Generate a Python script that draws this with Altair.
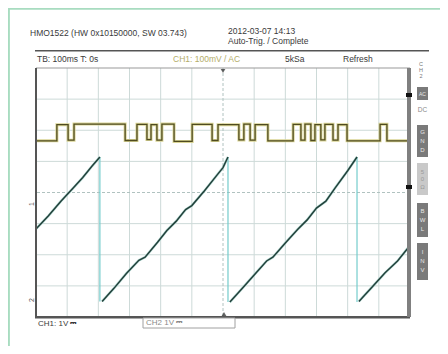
import altair as alt
import pandas as pd

FONT = "Liberation Sans"

# ---- data: CH1 (digital, yellow) -- edge times in ms, level in screen divisions
ch1_t = [0, 67, 103, 122, 286, 324, 356, 369, 388, 404, 443, 501, 565, 584, 651, 667,
         687, 703, 744, 825, 850, 863, 882, 895, 914, 927, 953, 969, 998, 1104, 1126, 1200]
ch1_v = [5.66, 6.18, 5.68, 6.20, 5.67, 6.19, 5.70, 6.18, 5.68, 6.20, 5.64, 6.19, 5.67, 6.18, 5.69, 6.20,
         5.68, 6.18, 5.66, 6.19, 5.68, 6.20, 5.67, 6.18, 5.69, 6.19, 5.68, 6.18, 5.66, 6.19, 5.66, 5.66]

# ---- data: CH2 (sawtooth) -- segments of the ramp (ms, divisions)
ramp_seg = [1]*7 + [2]*14 + [3]*13 + [4]*5
ramp_t = [0, 40, 80, 120, 150, 180, 205,
          212, 250, 290, 330, 350, 390, 420, 450, 480, 500, 540, 580, 600, 616,
          622, 660, 700, 740, 760, 800, 840, 870, 900, 930, 960, 1000, 1030,
          1036, 1080, 1120, 1160, 1200]
ramp_v = [2.83, 3.25, 3.72, 4.15, 4.48, 4.85, 5.14,
          0.50, 0.92, 1.40, 1.82, 1.92, 2.40, 2.78, 3.08, 3.45, 3.58, 4.05, 4.55, 4.80, 5.14,
          0.48, 0.90, 1.35, 1.80, 1.92, 2.38, 2.82, 3.12, 3.50, 3.72, 4.15, 4.70, 5.14,
          0.50, 0.98, 1.42, 1.80, 2.30]
# retrace (falling edges)
drop_t = [205, 616, 1030]
drop_top = [5.14, 5.14, 5.14]
drop_bot = [0.50, 0.48, 0.48]

# graticule (ms / divisions)
x_grid = [100, 200, 300, 400, 500, 700, 800, 900, 1000, 1100]
y_grid = [1, 2, 3, 5, 6, 7]

ch1 = pd.DataFrame({"t": ch1_t, "v": ch1_v})
ramp = pd.DataFrame({"t": ramp_t, "v": ramp_v, "seg": ramp_seg})
drops = pd.DataFrame({"t": drop_t, "top": drop_top, "bot": drop_bot})
dummy = pd.DataFrame({"a": [0]})

W, H = 374, 249
xs = alt.Scale(domain=[0, 1200], nice=False, zero=False)
ys = alt.Scale(domain=[0, 8], nice=False, zero=False)
GRID = "#cddad8"

vgrid = alt.Chart(pd.DataFrame({"g": x_grid})).mark_rule(color=GRID, strokeWidth=1).encode(
    x=alt.X("g:Q", scale=xs, axis=None))
hgrid = alt.Chart(pd.DataFrame({"g": y_grid})).mark_rule(color=GRID, strokeWidth=1).encode(
    y=alt.Y("g:Q", scale=ys, axis=None))
center_h = alt.Chart(dummy).mark_rule(color="#b0c2c0", strokeDash=[3, 2], strokeWidth=1).encode(
    y=alt.Y(datum=4, scale=ys, axis=None))
center_v = alt.Chart(dummy).mark_rule(color="#b0c2c0", strokeDash=[3, 2], strokeWidth=1).encode(
    x=alt.X(datum=600, scale=xs, axis=None))

# outer light-green page frame (only its top and left edges fall inside the picture)
frame = alt.Chart(dummy).mark_rect(fill="#ffffff", fillOpacity=0, stroke="#a8dcc0", strokeWidth=2).encode(
    x=alt.X(datum=-87, scale=xs, axis=None), x2=alt.X2(datum=1600),
    y=alt.Y(datum=9.9, scale=ys, axis=None), y2=alt.Y2(datum=-4))

ch1_glow = alt.Chart(ch1).mark_line(interpolate="step-after", color="#d9d494", strokeWidth=3).encode(
    x=alt.X("t:Q", scale=xs, axis=None), y=alt.Y("v:Q", scale=ys, axis=None))
ch1_core = alt.Chart(ch1).mark_line(interpolate="step-after", color="#4f4b20", strokeWidth=1.3).encode(
    x=alt.X("t:Q", scale=xs, axis=None), y=alt.Y("v:Q", scale=ys, axis=None))

drop_lines = alt.Chart(drops).mark_rule(color="#74cccc", strokeWidth=1.2).encode(
    x=alt.X("t:Q", scale=xs, axis=None), y=alt.Y("top:Q", scale=ys, axis=None), y2="bot:Q")

ramp_glow = alt.Chart(ramp).mark_line(color="#a5d3cc", strokeWidth=2.6, opacity=0.8).encode(
    x=alt.X("t:Q", scale=xs, axis=None), y=alt.Y("v:Q", scale=ys, axis=None), detail="seg:N")
ramp_core = alt.Chart(ramp).mark_line(color="#22403a", strokeWidth=1.5).encode(
    x=alt.X("t:Q", scale=xs, axis=None), y=alt.Y("v:Q", scale=ys, axis=None), detail="seg:N")


def txt(s, x, y, size=8, color="#3a3a3a", align="left", **kw):
    return alt.Chart(dummy).mark_text(text=s, align=align, baseline="middle", fontSize=size,
                                      color=color, font=FONT, **kw).encode(
        x=alt.value(x), y=alt.value(y))


def rect(x, x2, y, y2, fill, stroke=None, sw=1):
    kw = {"fill": fill}
    if stroke:
        kw.update(stroke=stroke, strokeWidth=sw)
    return alt.Chart(dummy).mark_rect(**kw).encode(
        x=alt.value(x), x2=alt.value(x2), y=alt.value(y), y2=alt.value(y2))


BX0, BX1, BXC = 381, 392, 386.5
deco = [
    # header texts
    txt("HMO1522 (HW 0x10150000, SW 03.743)", -6, -35, 8.5),
    txt("2012-03-07 14:13", 192, -37, 8.5),
    txt("Auto-Trig. / Complete", 192, -27, 8.5),
    rect(-1, 393, -18, -16.5, "#555555"),
    txt("TB: 100ms   T: 0s", 1, -9, 8.5),
    txt("CH1: 100mV / AC", 137, -9, 8.5, color="#b3ad6a"),
    txt("5kSa", 249, -9, 8.5),
    txt("Refresh", 307, -9, 8.5),
    txt("C", 385, -4, 5.5, color="#777777", align="center"),
    txt("H", 385, 2, 5.5, color="#777777", align="center"),
    txt("2", 385, 8, 5.5, color="#777777", align="center"),
    # plot frame
    rect(0, W, -0.5, 0.5, "#9a9a9a"),
    rect(-1, 1, 0, H, "#555555"),
    rect(-1, W, H - 1, H + 1.5, "#555555"),
    rect(371, 375, 0, H, "#808080"),
    rect(370, 376, 25, 29, "#111111"),
    rect(370, 376, 117, 121, "#111111"),
    # right panel buttons
    rect(BX0, BX1, 19, 32, "#7a7a7a"),
    txt("AC", BXC, 25.5, 5, color="#e8e8e8", align="center"),
    txt("DC", BXC, 42, 6.5, color="#8a8a8a", align="center"),
    rect(BX0, BX1, 57, 89, "#7a7a7a"),
    txt("G", BXC, 64, 6, color="#e8e8e8", align="center"),
    txt("N", BXC, 73, 6, color="#e8e8e8", align="center"),
    txt("D", BXC, 82, 6, color="#e8e8e8", align="center"),
    rect(BX0, BX1, 95, 127, "#c9c9c9"),
    txt("5", BXC, 104, 6, color="#9a9a9a", align="center"),
    txt("0", BXC, 111, 6, color="#9a9a9a", align="center"),
    txt("Ω", BXC, 119, 6, color="#9a9a9a", align="center"),
    rect(BX0, BX1, 135, 169, "#7a7a7a"),
    txt("B", BXC, 143, 6, color="#e8e8e8", align="center"),
    txt("W", BXC, 152, 6, color="#e8e8e8", align="center"),
    txt("L", BXC, 161, 6, color="#e8e8e8", align="center"),
    rect(BX0, BX1, 175, 212, "#7a7a7a"),
    txt("I", BXC, 184, 6, color="#e8e8e8", align="center"),
    txt("N", BXC, 193, 6, color="#e8e8e8", align="center"),
    txt("V", BXC, 202, 6, color="#e8e8e8", align="center"),
    # trigger markers
    alt.Chart(dummy).mark_point(shape="triangle-down", filled=True, color="#222222", size=22).encode(
        x=alt.value(187), y=alt.value(3)),
    alt.Chart(dummy).mark_point(shape="triangle-up", filled=True, color="#222222", size=22).encode(
        x=alt.value(188), y=alt.value(246)),
    # channel ground markers
    txt("1", -4, 136, 7, color="#555555", align="center", angle=270),
    txt("2", -4, 232, 7, color="#555555", align="center", angle=270),
    # footer
    txt("CH1: 1V ⎓", 2, 256, 8),
    rect(107, 199, 250, 260, "#ffffff", stroke="#a0a0a0", sw=1),
    txt("CH2 1V ⎓", 110, 255, 8, color="#8a8a8a"),
]

chart = alt.layer(
    frame, vgrid, hgrid, center_h, center_v, drop_lines, ramp_glow, ramp_core, ch1_glow, ch1_core, *deco
).properties(
    width=W, height=H,
    padding={"left": 28, "top": 60, "right": 30, "bottom": 29},
    autosize=alt.AutoSizeParams(type="none"),
    background="#ffffff",
).configure_view(stroke=None)

chart.save("out.html", embed_options={"renderer": "svg", "actions": False})
